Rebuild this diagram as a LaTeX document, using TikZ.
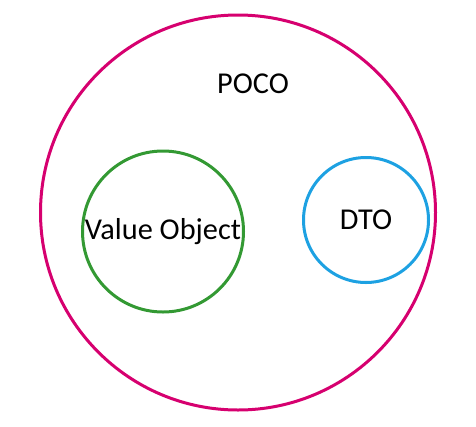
\documentclass[tikz,border=0pt]{standalone}
\usepackage{fontspec}
\setmainfont{Carlito}
\usepackage{tikz}
\usetikzlibrary{positioning}
\definecolor{pocopink}{RGB}{214,0,111}
\definecolor{vogreen}{RGB}{51,153,51}
\definecolor{dtoblue}{RGB}{29,161,226}

\begin{document}
\begin{tikzpicture}[x=1pt,y=-1pt]
        \useasboundingbox (0,0) rectangle (476,426);
        \tikzset{set/.style={circle,draw,line width=3pt,inner sep=0pt},
                 setlabel/.style={font=\fontsize{30.3}{34}\selectfont,inner sep=0pt}}
        \node[set,draw=pocopink,minimum size=395pt] (poco) at (238,212.5) {};
        \node[set,draw=vogreen,minimum size=161pt] (vo) at (163,231.5) {};
        \node[set,draw=dtoblue,minimum size=125pt] (dto) at (366,220) {};
        \node[setlabel] (pocolabel) at (253,84) {POCO};
        \node[setlabel] (volabel) at (vo.center) {Value Object};
        \node[setlabel] (dtolabel) at (dto.center) {DTO};
      \end{tikzpicture}
\end{document}
